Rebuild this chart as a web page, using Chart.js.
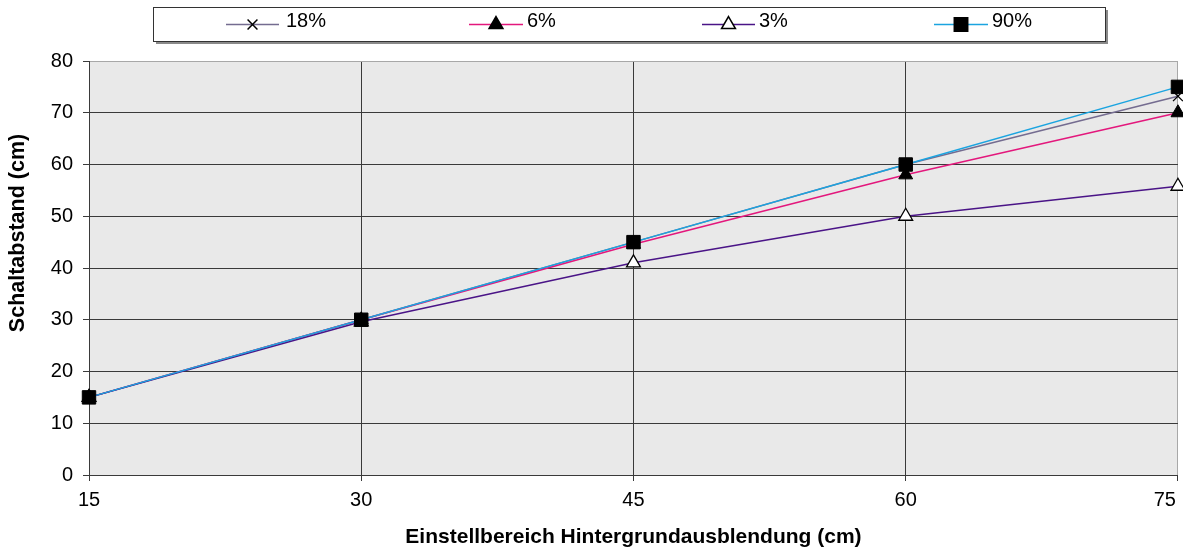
<!DOCTYPE html>
<html>
<head>
<meta charset="utf-8">
<script src="https://cdn.jsdelivr.net/npm/chart.js@4/dist/chart.umd.min.js"></script>
<style>
  html, body { margin: 0; padding: 0; background: #fff; overflow: hidden; }
  #wrap { width: 1183px; height: 553px; position: relative; }
</style>
</head>
<body>
<div id="wrap"><canvas id="chart"></canvas></div>
<script>
// Werte
const xWerte = [15, 30, 45, 60, 75];
const serien = ["18%", "6%", "3%", "90%"];
const werte18 = [15, 30, 45, 60, 73.2];
const werte6 = [15, 30, 44.6, 58, 70];
const werte3 = [15, 29.6, 41, 50, 55.8];
const werte90 = [15, 30, 45, 60, 75];
const yTicks = [0, 10, 20, 30, 40, 50, 60, 70, 80];
const yTitel = "Schaltabstand (cm)";
const xTitel = "Einstellbereich Hintergrundausblendung (cm)";

const schrift = "'Liberation Sans', Arial, sans-serif";
const gitterDunkel = "#3a3a3a";
const gitterHell = "#a8a8a8";
const flaecheRechts = 1178; // rechter Rand der Zeichenfläche im Original

function punkte(werte) {
  return xWerte.map((x, i) => ({ x: x, y: werte[i] }));
}

const datasets = [
  { label: serien[0], data: punkte(werte18), borderColor: "#746c90", pointStyle: "crossRot",
    pointRadius: 7, pointBorderColor: "#000", pointBackgroundColor: "#000", pointBorderWidth: 1.3, order: 4 },
  { label: serien[1], data: punkte(werte6), borderColor: "#e3177c", pointStyle: "triangle",
    pointRadius: 8, pointBorderColor: "#000", pointBackgroundColor: "#000", pointBorderWidth: 1, order: 3 },
  { label: serien[2], data: punkte(werte3), borderColor: "#4a1487", pointStyle: "triangle",
    pointRadius: 8, pointBorderColor: "#000", pointBackgroundColor: "#fff", pointBorderWidth: 1.3, order: 2 },
  { label: serien[3], data: punkte(werte90), borderColor: "#1ba4e0", pointStyle: "rect",
    pointRadius: 9.5, pointBorderColor: "#000", pointBackgroundColor: "#000", pointBorderWidth: 1, order: 1 }
];
datasets.forEach(d => { d.borderWidth = 1.5; d.tension = 0; d.clip = false; d.fill = false; });

// Hintergrund der Zeichenfläche + senkrechter Achsentitel (sitzt etwas höher als die Mitte)
const flaeche = {
  id: "flaeche",
  beforeDraw(chart) {
    const a = chart.chartArea, ctx = chart.ctx;
    ctx.save();
    ctx.fillStyle = "#e9e9e9";
    ctx.fillRect(a.left, a.top, a.right - a.left, a.bottom - a.top);
    ctx.translate(18, 233);
    ctx.rotate(-Math.PI / 2);
    ctx.fillStyle = "#000";
    ctx.font = "bold 21.5px " + schrift;
    ctx.textAlign = "center";
    ctx.textBaseline = "middle";
    ctx.fillText(yTitel, 0, 0);
    ctx.restore();
  }
};

// Legende im Kasten oben, Linie mit Marker in der Mitte
const legendePos = [
  { x1: 226, x2: 279, tx: 286 },
  { x1: 469, x2: 523, tx: 527 },
  { x1: 702, x2: 755, tx: 759 },
  { x1: 934, x2: 988, tx: 992 }
];
const legende = {
  id: "legende",
  afterDraw(chart) {
    const ctx = chart.ctx;
    ctx.save();
    ctx.fillStyle = "#8a8a8a";
    ctx.fillRect(156, 10, 952, 34);
    ctx.fillStyle = "#fff";
    ctx.fillRect(153, 7, 952, 35);
    ctx.strokeStyle = "#333";
    ctx.lineWidth = 1;
    ctx.strokeRect(153.5, 7.5, 952, 34);
    chart.data.datasets.forEach((d, i) => {
      const p = legendePos[i];
      const y = 24.5;
      ctx.strokeStyle = d.borderColor;
      ctx.lineWidth = 1.5;
      ctx.beginPath();
      ctx.moveTo(p.x1, y);
      ctx.lineTo(p.x2, y);
      ctx.stroke();
      ctx.fillStyle = d.pointBackgroundColor;
      ctx.strokeStyle = d.pointBorderColor;
      Chart.helpers.drawPoint(ctx, {
        pointStyle: d.pointStyle, radius: d.pointRadius, rotation: 0, borderWidth: d.pointBorderWidth
      }, (p.x1 + p.x2) / 2, y);
      ctx.fillStyle = "#000";
      ctx.font = "20px " + schrift;
      ctx.textBaseline = "middle";
      ctx.textAlign = "left";
      ctx.fillText(d.label, p.tx, 21);
    });
    ctx.restore();
  }
};

const chart = new Chart(document.getElementById("chart"), {
  type: "line",
  data: { datasets: datasets },
  plugins: [flaeche, legende],
  options: {
    responsive: true,
    maintainAspectRatio: false,
    animation: false,
    layout: { padding: { top: 61, right: 5, left: 0, bottom: 0 } },
    plugins: { legend: { display: false }, tooltip: { enabled: false } },
    scales: {
      x: {
        type: "linear",
        min: 15,
        max: 75,
        afterBuildTicks: s => { s.ticks = xWerte.map(v => ({ value: v })); },
        afterFit: s => { s.height = 78; },
        border: { color: gitterDunkel, width: 1 },
        grid: {
          color: c => (c.tick && c.tick.value === 75 ? gitterHell : gitterDunkel),
          tickColor: gitterDunkel,
          tickLength: 6,
          lineWidth: 1
        },
        ticks: {
          color: "#000",
          font: { family: schrift, size: 20 },
          padding: 7,
          maxRotation: 0,
          // letzte Beschriftung nach links gerückt wie im Original
          callback: v => (v === 75 ? v + "\u2009\u2007\u2007" : String(v))
        },
        title: {
          display: true,
          text: xTitel,
          color: "#000",
          font: { family: schrift, size: 21, weight: "bold" },
          padding: { top: 0, bottom: 3 }
        }
      },
      y: {
        min: 0,
        max: 80,
        afterBuildTicks: s => { s.ticks = yTicks.map(v => ({ value: v })); },
        afterFit: s => { s.width = 89; },
        border: { color: gitterDunkel, width: 1 },
        grid: {
          color: c => (c.tick && c.tick.value === 80 ? gitterHell : gitterDunkel),
          tickColor: gitterDunkel,
          tickLength: 6,
          lineWidth: 1
        },
        ticks: { color: "#000", font: { family: schrift, size: 20 }, padding: 10 },
        title: { display: false }
      }
    }
  }
});

// Zeichenfläche rechts bis an den Rand ziehen: Leinwand etwas breiter als das Fenster
const diff = flaecheRechts - chart.chartArea.right;
if (Math.abs(diff) > 0.5) {
  const breite = 1183 + diff;
  document.getElementById("wrap").style.width = breite + "px";
  chart.resize(breite, 553);
}
</script>
</body>
</html>
